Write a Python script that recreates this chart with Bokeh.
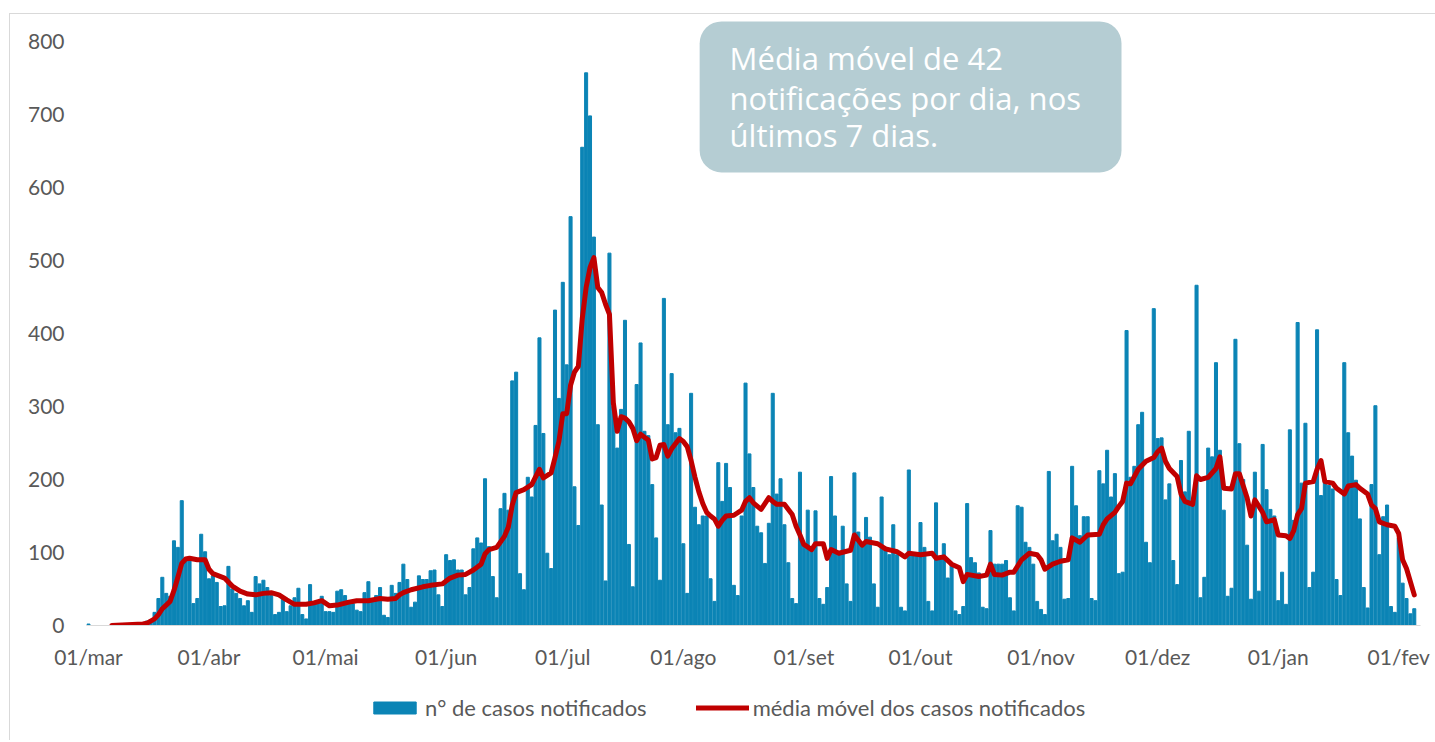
import pandas as pd
from bokeh.plotting import figure
from bokeh.layouts import column
from bokeh.models import (FixedTicker, Legend, LegendItem, BoxAnnotation, Label,
                          ColumnDataSource, Range1d)
from bokeh.embed import file_html
from bokeh.resources import INLINE

# ---------------- data ----------------
start_date = "2020-03-01"

# daily notified cases, one value per day from 01/mar/2020
cases = [
    2, 0, 0, 0, 0, 0, 0, 0, 0, 0,
    0, 0, 0, 2, 3, 6, 8, 18, 37, 66,
    44, 40, 116, 107, 171, 90, 90, 30, 37, 125,
    101, 64, 68, 59, 26, 27, 81, 50, 44, 37,
    27, 34, 18, 67, 57, 62, 52, 41, 15, 18,
    37, 19, 27, 38, 51, 15, 9, 56, 30, 32,
    40, 19, 19, 18, 47, 49, 41, 30, 30, 21,
    19, 45, 60, 37, 41, 52, 14, 11, 55, 44,
    59, 84, 63, 25, 32, 68, 63, 63, 75, 76,
    42, 26, 97, 89, 90, 76, 76, 42, 52, 105,
    120, 113, 201, 108, 67, 38, 160, 181, 158, 335,
    347, 71, 49, 203, 176, 274, 394, 263, 99, 78,
    432, 311, 470, 357, 560, 190, 137, 655, 757, 698,
    532, 275, 165, 61, 510, 300, 243, 296, 418, 111,
    53, 330, 387, 266, 260, 193, 120, 62, 448, 275,
    345, 264, 270, 112, 44, 318, 162, 138, 150, 150,
    64, 33, 223, 170, 222, 189, 55, 41, 150, 332,
    235, 189, 136, 127, 85, 140, 318, 180, 201, 138,
    86, 37, 30, 210, 110, 158, 105, 157, 37, 29,
    52, 204, 150, 100, 136, 57, 33, 209, 128, 112,
    148, 121, 57, 25, 176, 107, 97, 138, 97, 25,
    20, 213, 97, 97, 141, 107, 33, 20, 168, 93,
    112, 65, 85, 20, 15, 26, 167, 93, 86, 72,
    25, 23, 130, 84, 84, 84, 89, 38, 20, 164,
    162, 114, 107, 84, 33, 22, 15, 211, 116, 125,
    107, 36, 37, 218, 164, 123, 149, 149, 37, 34,
    212, 194, 240, 176, 208, 71, 73, 404, 203, 218,
    275, 292, 114, 86, 434, 256, 257, 172, 194, 89,
    56, 226, 183, 266, 167, 466, 38, 66, 243, 231,
    360, 240, 158, 40, 51, 392, 249, 200, 110, 36,
    210, 47, 248, 186, 159, 150, 34, 73, 29, 268,
    144, 415, 195, 277, 52, 73, 405, 178, 199, 192,
    187, 63, 41, 360, 264, 232, 199, 146, 52, 24,
    193, 301, 97, 149, 165, 26, 18, 120, 58, 37,
    16, 23,
]

# moving average (day offset from start, value)
ma_days = [
    6, 10, 14, 15, 16, 17, 18, 19, 20, 21, 22, 23, 24, 25, 26, 28, 30, 31, 32, 33,
    35, 37, 39, 41, 43, 45, 47, 49, 51, 53, 56, 58, 60, 62, 64, 67, 69, 72, 75, 77,
    79, 80, 81, 83, 86, 88, 91, 93, 95, 97, 99, 101, 102, 103, 105, 107, 108, 109, 110, 112,
    114, 116, 117, 119, 120, 121, 122, 123, 124, 125, 126, 127, 128, 129, 130, 131, 132, 133, 134, 135,
    136, 137, 138, 139, 140, 141, 142, 143, 144, 145, 146, 147, 148, 149, 150, 152, 153, 154, 155, 156,
    157, 158, 159, 160, 161, 162, 163, 164, 166, 168, 169, 170, 171, 173, 175, 176, 177, 179, 181, 182,
    183, 184, 186, 187, 189, 190, 191, 193, 196, 197, 199, 200, 203, 205, 208, 210, 211, 214, 217, 218,
    220, 222, 224, 225, 226, 229, 231, 232, 233, 235, 237, 238, 240, 242, 244, 245, 246, 248, 250, 252,
    253, 255, 257, 260, 261, 262, 264, 265, 266, 267, 268, 270, 272, 274, 275, 276, 277, 278, 280, 281,
    282, 284, 285, 286, 288, 290, 291, 292, 294, 295, 296, 298, 299, 300, 302, 303, 305, 306, 308, 309,
    310, 311, 312, 313, 315, 316, 317, 318, 320, 321, 323, 324, 326, 327, 329, 330, 331, 332, 334, 336,
    337, 338, 339, 341,
]
ma_values = [
    0, 1, 2, 3, 6, 9, 15, 23, 28, 33, 48, 66, 85, 91, 92, 90, 90, 77, 71, 69,
    65, 54, 47, 43, 42, 44, 45, 42, 35, 29, 29, 31, 34, 27, 28, 32, 34, 34, 37, 36,
    37, 42, 45, 49, 53, 55, 57, 65, 69, 70, 76, 84, 98, 104, 107, 122, 135, 165, 182, 186,
    193, 214, 202, 209, 230, 252, 290, 290, 329, 347, 355, 420, 463, 490, 504, 463, 456, 440, 426, 305,
    266, 286, 284, 279, 270, 253, 262, 258, 254, 228, 230, 247, 248, 232, 242, 256, 252, 245, 226, 203,
    183, 167, 155, 150, 146, 136, 144, 150, 151, 158, 170, 175, 168, 159, 175, 170, 166, 166, 152, 136,
    124, 111, 104, 112, 112, 92, 104, 99, 103, 124, 110, 115, 112, 105, 101, 94, 99, 97, 99, 92,
    94, 84, 79, 60, 70, 67, 69, 84, 70, 69, 73, 73, 90, 99, 97, 90, 77, 84, 88, 90,
    120, 114, 124, 125, 138, 146, 155, 163, 170, 195, 194, 214, 225, 230, 238, 243, 225, 215, 204, 180,
    170, 166, 205, 200, 203, 215, 231, 188, 187, 208, 208, 175, 150, 172, 155, 142, 145, 124, 123, 119,
    130, 152, 160, 195, 197, 214, 226, 197, 195, 188, 180, 191, 193, 188, 180, 165, 160, 142, 138, 136,
    126, 90, 78, 42,
]

tick_dates = ["2020-03-01", "2020-04-01", "2020-05-01", "2020-06-01", "2020-07-01", "2020-08-01",
              "2020-09-01", "2020-10-01", "2020-11-01", "2020-12-01", "2021-01-01", "2021-02-01"]
tick_labels = ["01/mar", "01/abr", "01/mai", "01/jun", "01/jul", "01/ago",
               "01/set", "01/out", "01/nov", "01/dez", "01/jan", "01/fev"]
y_ticks = [0, 100, 200, 300, 400, 500, 600, 700, 800]

series_names = ["n° de casos notificados", "média móvel dos casos notificados"]
note_lines = ["Média móvel de 42", "notificações por dia, nos", "últimos 7 dias."]

# ---------------- derived ----------------
day_index = list(range(len(cases)))
tick_pos = [int((pd.Timestamp(d) - pd.Timestamp(start_date)).days) for d in tick_dates]

FONT = "Lato"
GREY = "#595959"
BAR = "#0B84B5"
RED = "#C00000"

p = figure(width=1425, height=680, output_backend="svg", toolbar_location=None,
           x_range=Range1d(-0.5, 342.6), y_range=Range1d(0, 830),
           min_border_left=76, min_border_right=15, min_border_top=5, min_border_bottom=69)
p.outline_line_color = None
p.grid.grid_line_color = None
p.background_fill_color = "white"

bars = p.vbar(x="x", top="top", width=0.78, color=BAR,
              source=ColumnDataSource(dict(x=day_index, top=cases)))
ma = p.line(ma_days, ma_values, line_color=RED, line_width=5, line_join="round", line_cap="round")

# axes
xa = p.xaxis[0]
xa.ticker = FixedTicker(ticks=tick_pos)
xa.major_label_overrides = {t: lab for t, lab in zip(tick_pos, tick_labels)}
xa.axis_line_color = "#D9D9D9"
xa.major_tick_line_color = None
xa.minor_tick_line_color = None
xa.major_label_standoff = 12
xa.major_label_text_font = FONT
xa.major_label_text_font_size = "21px"
xa.major_label_text_color = GREY

ya = p.yaxis[0]
ya.ticker = FixedTicker(ticks=y_ticks)
ya.axis_line_color = None
ya.major_tick_line_color = None
ya.minor_tick_line_color = None
ya.major_label_standoff = 16
ya.major_label_text_font = FONT
ya.major_label_text_font_size = "21px"
ya.major_label_text_color = GREY

# annotation box
box = BoxAnnotation(left=157.2, right=265.7, bottom=620.5, top=827.4,
                    fill_color="#B5CDD3", fill_alpha=1.0, line_color=None,
                    border_radius=22, level="overlay")
p.add_layout(box)
for i, line in enumerate(note_lines):
    p.add_layout(Label(x=164.9, y=[776.7, 721.9, 671.2][i], text=line,
                       text_font="Open Sans", text_font_size="31px", text_color="white",
                       text_baseline="alphabetic", level="overlay"))

# legend strip below the chart (its frame is aligned with the main chart's frame)
leg = figure(width=1425, height=46, output_backend="svg", toolbar_location=None,
             x_axis_location=None, y_axis_location=None,
             x_range=Range1d(0, 1), y_range=Range1d(0, 1),
             min_border_left=0, min_border_right=0, min_border_top=0, min_border_bottom=0)
leg.outline_line_color = None
leg.grid.grid_line_color = None
# legend swatches only: renderers hold no drawable point
nan = float("nan")
lb = leg.vbar(x=[nan], top=[nan], width=0.8, color=BAR)
ll = leg.line(x=[nan, nan], y=[nan, nan], line_color=RED, line_width=5, line_cap="round")
legend = Legend(items=[LegendItem(label=series_names[0], renderers=[lb]),
                       LegendItem(label=series_names[1], renderers=[ll])],
                orientation="horizontal", location=(282, 19),
                glyph_width=53, glyph_height=15, label_standoff=4, spacing=49,
                margin=0, padding=0, border_line_color=None, background_fill_alpha=0,
                label_text_font=FONT, label_text_font_size="22px", label_text_color=GREY)
leg.add_layout(legend, "center")

layout = column(p, leg, spacing=0)
layout.styles = {"margin-left": "9px", "margin-top": "13px",
                 "border-left": "1px solid #D9D9D9", "border-top": "1px solid #D9D9D9"}

open("out.html", "w").write(file_html(layout, INLINE))
